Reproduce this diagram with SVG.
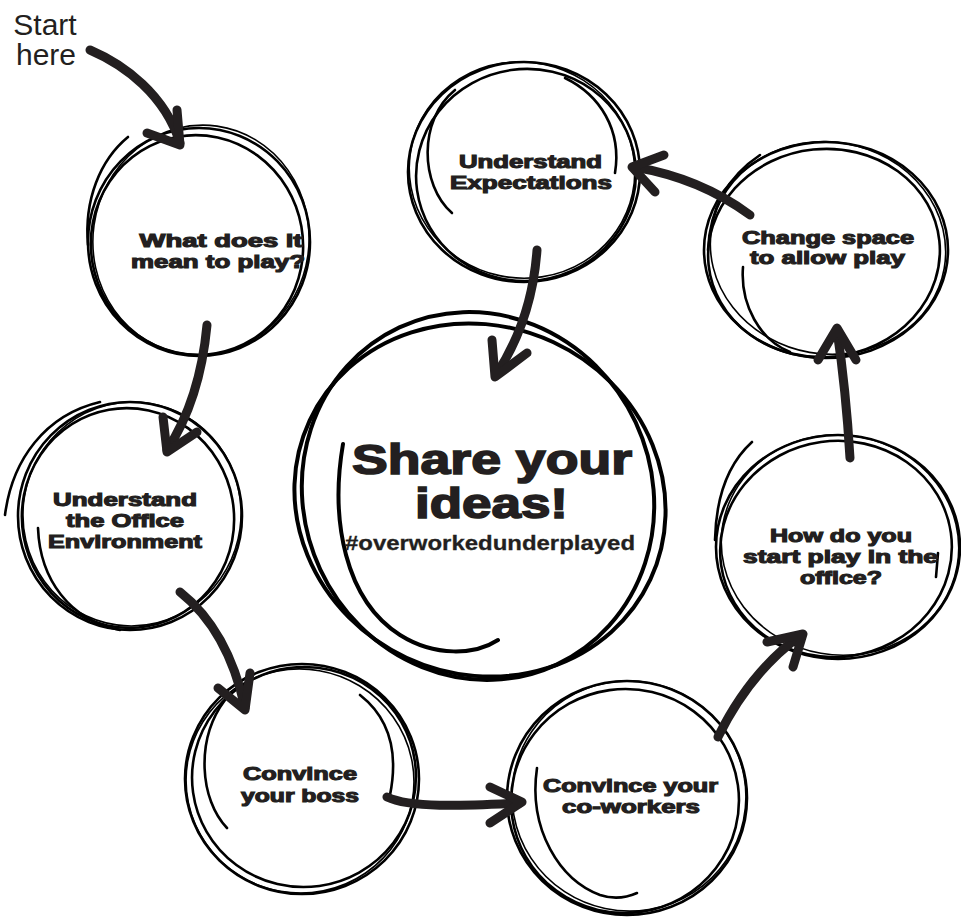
<svg xmlns="http://www.w3.org/2000/svg" width="961" height="918" viewBox="0 0 961 918">
<style>
.c{fill:none;stroke:#000;stroke-width:2.6;stroke-linecap:round}
.ct{fill:none;stroke:#000;stroke-width:1.6;stroke-linecap:round}
.cb{fill:none;stroke:#000;stroke-width:4;stroke-linecap:round}
.a{fill:none;stroke:#231f20;stroke-width:9;stroke-linecap:round;stroke-linejoin:round}
.t{font-family:"Liberation Sans",Arial,sans-serif;font-weight:bold;font-size:18px;fill:#231f20;stroke:#231f20;stroke-width:1.1;text-anchor:middle}
.big{font-size:42px;stroke-width:1.6}
.tag{font-family:"Liberation Sans",Arial,sans-serif;font-weight:bold;font-size:21px;fill:#231f20;stroke:#231f20;stroke-width:0.3;text-anchor:middle}
.st{font-family:"Liberation Sans",Arial,sans-serif;font-size:30px;fill:#231f20;text-anchor:middle}
</style>
<rect width="961" height="918" fill="#fff"/>

<g id="start-label">
<text class="st" x="45" y="35">Start</text>
<text class="st" x="46" y="65">here</text>
</g>

<g id="node-play">
<ellipse class="c" cx="199" cy="242" rx="111" ry="114"/>
<ellipse class="ct" cx="201" cy="240" rx="108" ry="115" transform="rotate(8 201 240)"/>
<ellipse class="c" cx="197" cy="245" rx="106" ry="110" transform="rotate(-10 197 245)"/>
<path class="c" d="M128,137 C100,160 84,200 88,245"/>
<text class="t" x="221" y="247" textLength="163" lengthAdjust="spacingAndGlyphs">What does it</text>
<text class="t" x="218" y="268" textLength="174" lengthAdjust="spacingAndGlyphs">mean to play?</text>
</g>

<g id="node-expectations">
<ellipse class="c" cx="524" cy="172" rx="116" ry="110"/>
<ellipse class="ct" cx="522" cy="170" rx="113" ry="108" transform="rotate(12 522 170)"/>
<ellipse class="c" cx="526" cy="175" rx="110" ry="106" transform="rotate(-8 526 175)"/>
<path class="c" d="M452,213 C420,185 418,120 455,90"/>
<path class="c" d="M615,173 C622,130 600,95 565,78"/>
<text class="t" x="530.5" y="168" textLength="143" lengthAdjust="spacingAndGlyphs">Understand</text>
<text class="t" x="531" y="189" textLength="162" lengthAdjust="spacingAndGlyphs">Expectations</text>
</g>

<g id="node-space">
<ellipse class="c" cx="826" cy="250" rx="122" ry="108"/>
<ellipse class="ct" cx="828" cy="248" rx="118" ry="106" transform="rotate(10 828 248)"/>
<ellipse class="c" cx="824" cy="253" rx="116" ry="104" transform="rotate(-6 824 253)"/>
<path class="c" d="M708,250 C710,205 730,175 760,155"/>
<path class="c" d="M743,267 C740,305 760,340 790,352"/>
<text class="t" x="828" y="244" textLength="172" lengthAdjust="spacingAndGlyphs">Change space</text>
<text class="t" x="827.5" y="264" textLength="155" lengthAdjust="spacingAndGlyphs">to allow play</text>
</g>

<g id="node-office-env">
<ellipse class="c" cx="130" cy="516" rx="112" ry="114"/>
<ellipse class="ct" cx="132" cy="514" rx="109" ry="112" transform="rotate(8 132 514)"/>
<ellipse class="c" cx="128" cy="518" rx="106" ry="110" transform="rotate(-10 128 518)"/>
<path class="c" d="M5,515 C12,460 45,415 100,402"/>
<path class="c" d="M38,528 C40,580 70,620 120,630"/>
<text class="t" x="125" y="506" textLength="144" lengthAdjust="spacingAndGlyphs">Understand</text>
<text class="t" x="125" y="527" textLength="118" lengthAdjust="spacingAndGlyphs">the Office</text>
<text class="t" x="125" y="548" textLength="154" lengthAdjust="spacingAndGlyphs">Environment</text>
</g>

<g id="node-boss">
<ellipse class="c" cx="302" cy="779" rx="117" ry="115"/>
<ellipse class="ct" cx="300" cy="781" rx="114" ry="112" transform="rotate(10 300 781)"/>
<ellipse class="c" cx="304" cy="777" rx="112" ry="110" transform="rotate(-8 304 777)"/>
<path class="c" d="M227,828 C200,800 195,740 225,700"/>
<path class="c" d="M390,795 C398,755 392,720 360,695"/>
<text class="t" x="300" y="780" textLength="114" lengthAdjust="spacingAndGlyphs">Convince</text>
<text class="t" x="300" y="802" textLength="118" lengthAdjust="spacingAndGlyphs">your boss</text>
</g>

<g id="node-coworkers">
<ellipse class="c" cx="627" cy="798" rx="120" ry="117"/>
<ellipse class="ct" cx="629" cy="796" rx="117" ry="115" transform="rotate(12 629 796)"/>
<ellipse class="c" cx="625" cy="801" rx="114" ry="112" transform="rotate(-8 625 801)"/>
<path class="c" d="M537,768 C528,830 560,880 600,895 C615,900 628,897 637,893"/>
<text class="t" x="630.5" y="792" textLength="175" lengthAdjust="spacingAndGlyphs">Convince your</text>
<text class="t" x="631" y="813" textLength="138" lengthAdjust="spacingAndGlyphs">co-workers</text>
</g>

<g id="node-start-play">
<ellipse class="c" cx="838" cy="547" rx="122" ry="112"/>
<ellipse class="ct" cx="840" cy="545" rx="119" ry="110" transform="rotate(10 840 545)"/>
<ellipse class="c" cx="836" cy="549" rx="116" ry="108" transform="rotate(-8 836 549)"/>
<path class="c" d="M752,442 C730,462 716,495 715,540"/>
<path class="c" d="M938,553 L936,577"/>
<text class="t" x="841" y="542" textLength="142" lengthAdjust="spacingAndGlyphs">How do you</text>
<text class="t" x="840.5" y="563" textLength="195" lengthAdjust="spacingAndGlyphs">start play in the</text>
<text class="t" x="841" y="584" textLength="82" lengthAdjust="spacingAndGlyphs">office?</text>
</g>

<g id="node-share">
<ellipse class="cb" cx="480" cy="500" rx="188" ry="174" transform="rotate(25 480 500)"/>
<ellipse class="cb" cx="478" cy="496" rx="174" ry="186" transform="rotate(-25 478 496)"/>
<path class="cb" d="M343,444 C330,520 345,600 400,635 C435,657 475,655 498,640"/>
<text class="t big" x="492" y="474" textLength="280" lengthAdjust="spacingAndGlyphs">Share your</text>
<text class="t big" x="491.5" y="518" textLength="153" lengthAdjust="spacingAndGlyphs">ideas!</text>
<text class="tag" x="490" y="550" textLength="290" lengthAdjust="spacingAndGlyphs">#overworkedunderplayed</text>
</g>

<g id="connectors">
<path class="a" d="M90,50 C125,65 165,95 180,143"/>
<path class="a" d="M177,110 L180,145 L147,133"/>
<path class="a" d="M207,325 Q200,400 167,450"/>
<path class="a" d="M163,417 L167,452 L197,432"/>
<path class="a" d="M180,592 Q228,630 245,708"/>
<path class="a" d="M218,688 L245,710 L250,673"/>
<path class="a" d="M387,797 C410,808 460,806 520,803"/>
<path class="a" d="M490,787 L522,802 L490,823"/>
<path class="a" d="M718,737 Q750,672 801,635"/>
<path class="a" d="M767,642 L803,634 L793,667"/>
<path class="a" d="M850,458 Q846,390 837,330"/>
<path class="a" d="M818,360 L837,328 L856,360"/>
<path class="a" d="M750,215 Q700,178 634,167"/>
<path class="a" d="M664,155 L632,167 L655,192"/>
<path class="a" d="M537,250 Q532,320 496,375"/>
<path class="a" d="M492,340 L495,377 L527,353"/>
</g>
</svg>
